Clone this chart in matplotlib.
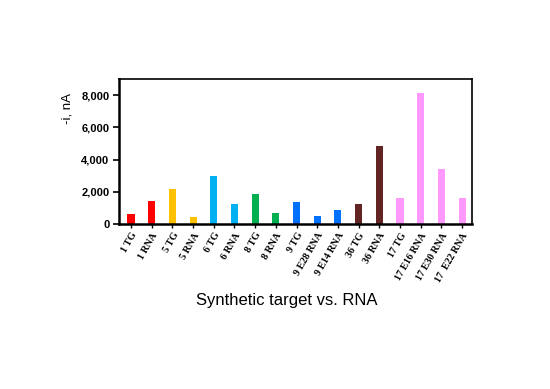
import matplotlib
matplotlib.use("Agg")
import matplotlib.pyplot as plt
from matplotlib.ticker import FuncFormatter

categories = ["1 TG", "1 RNA", "5 TG", "5 RNA", "6 TG", "6 RNA", "8 TG", "8 RNA",
              "9 TG", "9 E28 RNA", "9 E14 RNA", "36 TG", "36 RNA", "17 TG",
              "17 E16 RNA", "17 E30 RNA", "17  E22 RNA"]
values = [620, 1410, 2170, 450, 2960, 1260, 1860, 700,
          1390, 520, 870, 1260, 4860, 1590, 8120, 3410, 1590]
colors = ["#FF0000", "#FF0000", "#FFC000", "#FFC000", "#00B0F0", "#00B0F0",
          "#00B050", "#00B050", "#0070FF", "#0070FF", "#0070FF",
          "#632523", "#632523", "#FF99FF", "#FF99FF", "#FF99FF", "#FF99FF"]

fig = plt.figure(figsize=(5.5, 3.89), dpi=100)
ax = fig.add_axes([119/550, 1-224/389, (472-119)/550, (224-79)/389])

x = list(range(len(categories)))
ax.bar(x, values, width=0.34, color=colors, zorder=2)
ax.set_xlim(-0.58, len(categories) - 0.52)
ax.set_ylim(0, 9000)
ax.set_yticks([0, 2000, 4000, 6000, 8000])
ax.yaxis.set_major_formatter(FuncFormatter(lambda v, p: f"{int(v):,}"))
for lab in ax.get_yticklabels():
    lab.set_fontfamily("Liberation Sans")
    lab.set_fontweight("bold")
    lab.set_fontsize(8)
ax.tick_params(axis="y", direction="out", length=4, width=1.2, pad=3)
ax.set_xticks(x)
ax.set_xticklabels(categories, rotation=60, ha="right", rotation_mode="anchor",
                   fontfamily="Liberation Serif", fontweight="bold", fontsize=7.2)
ax.tick_params(axis="x", direction="out", length=3, width=1, pad=2)

for s in ["left", "bottom"]:
    ax.spines[s].set_linewidth(1.8)
for s in ["top", "right"]:
    ax.spines[s].set_linewidth(1.2)

ax.set_ylabel("-i, nA", fontfamily="Liberation Sans", fontsize=9.5)
ax.yaxis.set_label_coords(-0.13, 0.80)

fig.text(287/550, 1-300/389, "Synthetic target vs. RNA", ha="center", va="center",
         fontfamily="Liberation Sans", fontsize=12)

fig.savefig("out.png", dpi=100)
